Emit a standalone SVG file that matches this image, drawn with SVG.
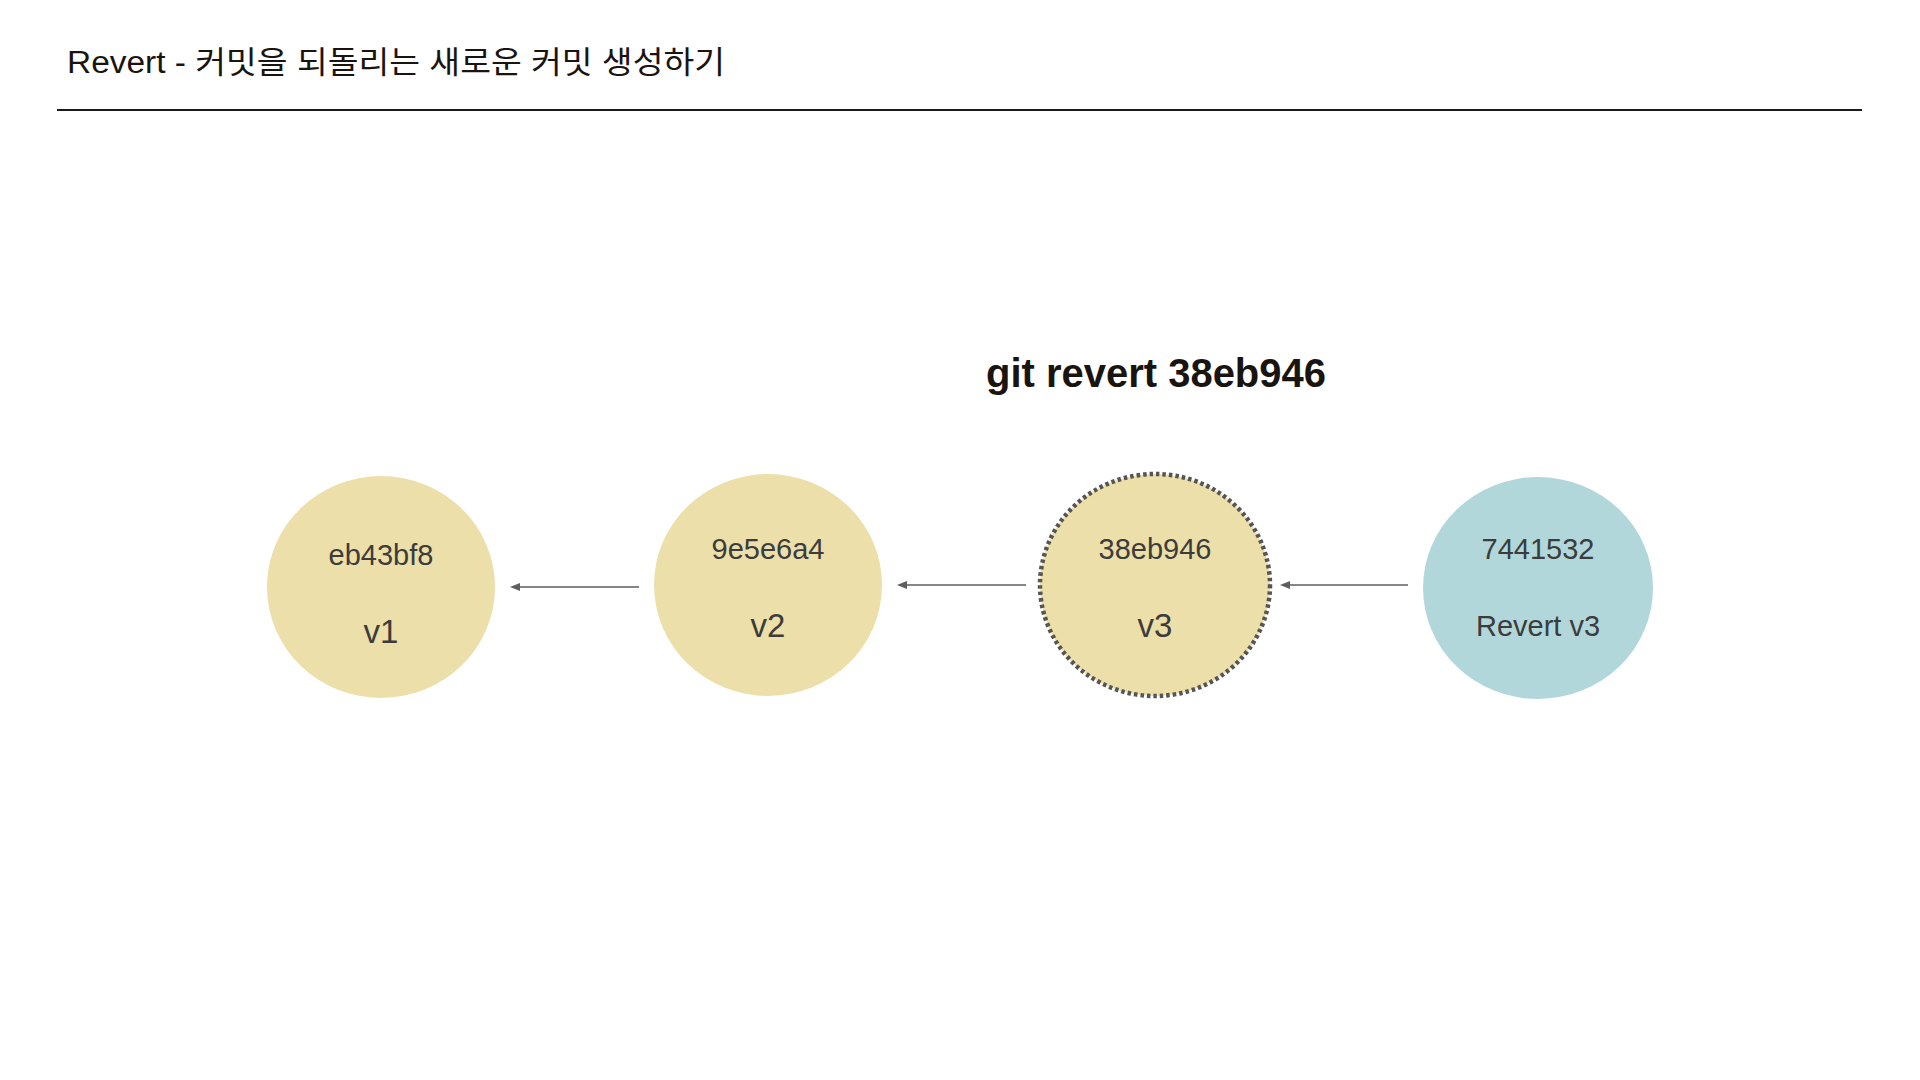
<svg xmlns="http://www.w3.org/2000/svg" width="1920" height="1080" viewBox="0 0 1920 1080">
<style>
.title{font-family:"Liberation Sans","Noto Sans CJK KR",sans-serif;font-size:31px;fill:#1a1410}
.cmd{font-family:"Liberation Sans",Arial,sans-serif;font-size:40px;font-weight:bold;fill:#1a1410}
.hash{font-family:"Liberation Sans",Arial,sans-serif;font-size:29px;fill:#3c3c3c;text-anchor:middle}
.ver{font-family:"Liberation Sans",Arial,sans-serif;font-size:33px;fill:#3c3c3c;text-anchor:middle}
.y{fill:#ecdfa9}
.b{fill:#b1d7db}
.conn{stroke:#5e5e5e;stroke-width:1.6;fill:none;marker-end:url(#ah)}
</style>
<defs>
<marker id="ah" markerWidth="10" markerHeight="10" refX="1" refY="5" orient="auto" markerUnits="userSpaceOnUse" viewBox="0 0 10 10">
<path d="M10,1 L0,5 L10,9 Z" fill="#5e5e5e" transform="rotate(180 5 5)"/>
</marker>
</defs>
<rect width="1920" height="1080" fill="#ffffff"/>
<text class="title" x="67" y="73" textLength="658" lengthAdjust="spacingAndGlyphs">Revert - 커밋을 되돌리는 새로운 커밋 생성하기</text>
<line x1="57" y1="110" x2="1862" y2="110" stroke="#1a1a1a" stroke-width="2"/>
<text class="cmd" x="986" y="387" textLength="340" lengthAdjust="spacingAndGlyphs">git revert 38eb946</text>
<g id="connectors">
<line class="conn" x1="639" y1="587" x2="519" y2="587"/>
<line class="conn" x1="1026" y1="585" x2="906" y2="585"/>
<line class="conn" x1="1408" y1="585" x2="1289" y2="585"/>
</g>
<g id="node-v1">
<ellipse class="y" cx="381" cy="587" rx="114" ry="111"/>
<text class="hash" x="381" y="565">eb43bf8</text>
<text class="ver" x="381" y="643">v1</text>
</g>
<g id="node-v2">
<ellipse class="y" cx="768" cy="585" rx="114" ry="111"/>
<text class="hash" x="768" y="559">9e5e6a4</text>
<text class="ver" x="768" y="637">v2</text>
</g>
<g id="node-v3">
<ellipse class="y" cx="1155" cy="585" rx="115" ry="111" stroke="#555555" stroke-width="4.5" stroke-dasharray="3.5 3"/>
<text class="hash" x="1155" y="559">38eb946</text>
<text class="ver" x="1155" y="637">v3</text>
</g>
<g id="node-revert">
<ellipse class="b" cx="1538" cy="588" rx="115" ry="111"/>
<text class="hash" x="1538" y="559">7441532</text>
<text class="hash" x="1538" y="636">Revert v3</text>
</g>
</svg>
